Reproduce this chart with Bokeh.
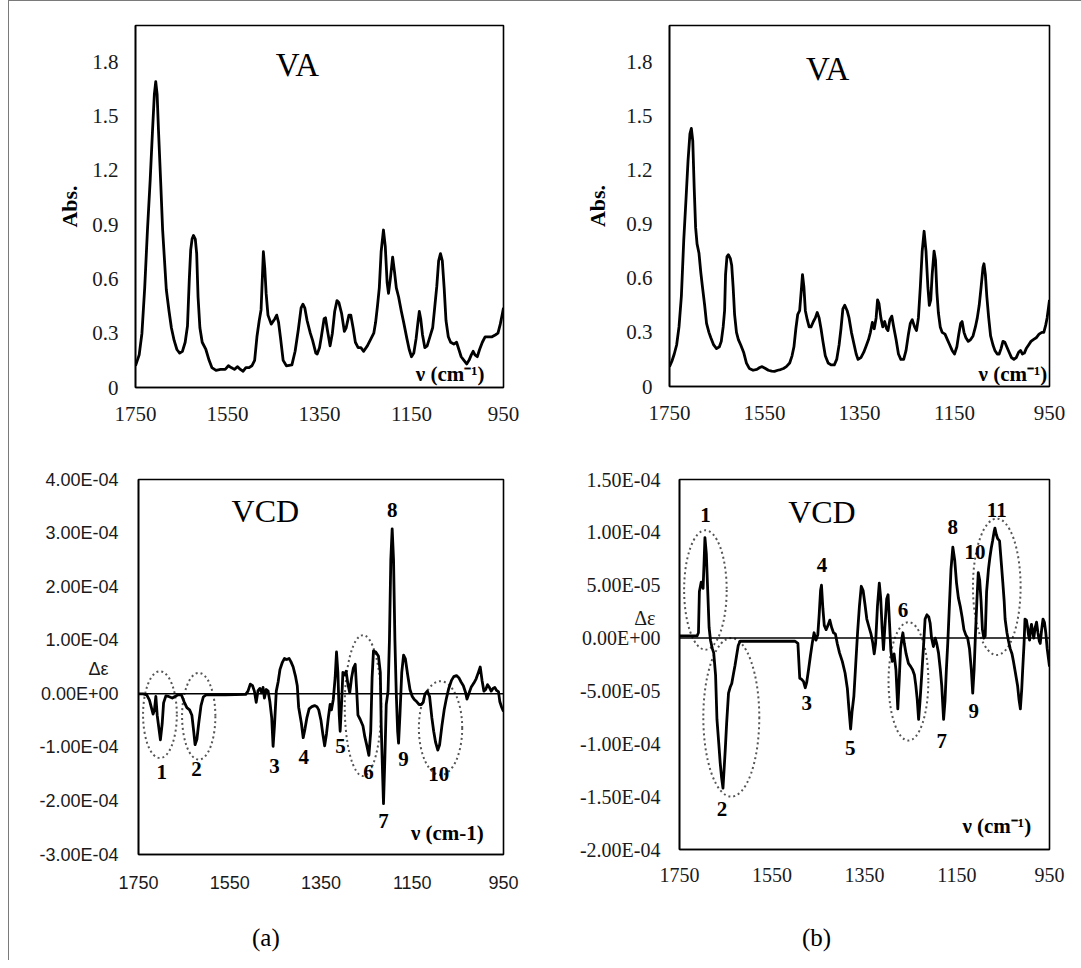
from bokeh.plotting import figure
from bokeh.models import Range1d, FixedTicker, CustomJSTickFormatter, Label, Span, Div
from bokeh.layouts import row, column
from bokeh.embed import file_html
from bokeh.resources import INLINE
from bokeh.core.properties import value

SERIF = "Liberation Serif"
SANS = "Liberation Sans"

# ---------------- data ----------------
x_ticks = [1750, 1550, 1350, 1150, 950]
va_ticks = [0, 0.3, 0.6, 0.9, 1.2, 1.5, 1.8]
vcd_a_ticks = [-3e-4, -2e-4, -1e-4, 0, 1e-4, 2e-4, 3e-4, 4e-4]
vcd_b_ticks = [-2e-4, -1.5e-4, -1e-4, -5e-5, 0, 5e-5, 1e-4, 1.5e-4]
vcd_a_ylabel_at = 0.47e-4   # where the "Δε" caption sits on the (a) axis
vcd_b_ylabel_at = 0.19e-4   # where the "Δε" caption sits on the (b) axis

# (a) VA spectrum
va_a_wn = [1750, 1742, 1736, 1730, 1724, 1718, 1713, 1709, 1706, 1703, 1700, 1695, 1691, 1683, 1677, 1672,
           1666, 1660, 1654, 1648, 1642, 1637, 1633, 1630, 1627, 1624, 1620, 1617, 1614, 1610, 1605, 1597,
           1590, 1584, 1575, 1565, 1555, 1548, 1542, 1535, 1528, 1522, 1516, 1510, 1503, 1497, 1491, 1486,
           1481, 1477, 1474, 1472, 1469, 1466, 1462, 1455, 1447, 1443, 1439, 1435, 1429, 1422, 1410, 1403,
           1396, 1390, 1386, 1382, 1377, 1370, 1365, 1358, 1355, 1350, 1346, 1340, 1337, 1333, 1327, 1322,
           1317, 1312, 1308, 1302, 1296, 1292, 1286, 1282, 1277, 1272, 1266, 1260, 1254, 1246, 1238, 1232,
           1228, 1224, 1220, 1216, 1211, 1207, 1203, 1200, 1196, 1191, 1187, 1183, 1178, 1172, 1167, 1160,
           1155, 1150, 1145, 1140, 1136, 1133, 1130, 1126, 1121, 1116, 1110, 1104, 1100, 1095, 1091, 1087,
           1083, 1079, 1075, 1070, 1065, 1058, 1052, 1047, 1042, 1036, 1030, 1025, 1020, 1016, 1012, 1007,
           1002, 996, 990, 982, 975, 968, 962, 957, 953, 950]
va_a_abs = [0.12, 0.18, 0.30, 0.55, 0.87, 1.15, 1.42, 1.62, 1.69, 1.62, 1.42, 1.12, 0.87, 0.54, 0.42, 0.33,
            0.26, 0.21, 0.19, 0.20, 0.25, 0.34, 0.60, 0.76, 0.82, 0.84, 0.82, 0.74, 0.50, 0.33, 0.25, 0.21,
            0.15, 0.11, 0.095, 0.10, 0.10, 0.12, 0.11, 0.10, 0.115, 0.10, 0.09, 0.11, 0.11, 0.12, 0.15, 0.28,
            0.37, 0.43, 0.62, 0.75, 0.66, 0.52, 0.40, 0.35, 0.38, 0.40, 0.36, 0.28, 0.15, 0.12, 0.125, 0.20,
            0.32, 0.44, 0.46, 0.44, 0.37, 0.30, 0.26, 0.19, 0.185, 0.22, 0.28, 0.38, 0.385, 0.32, 0.23, 0.30,
            0.42, 0.48, 0.47, 0.41, 0.31, 0.33, 0.40, 0.40, 0.33, 0.25, 0.22, 0.22, 0.20, 0.23, 0.27, 0.30,
            0.36, 0.45, 0.55, 0.75, 0.87, 0.78, 0.58, 0.52, 0.60, 0.72, 0.64, 0.55, 0.50, 0.42, 0.36, 0.27,
            0.21, 0.17, 0.19, 0.27, 0.36, 0.42, 0.38, 0.29, 0.22, 0.23, 0.28, 0.33, 0.43, 0.56, 0.70, 0.74,
            0.70, 0.55, 0.37, 0.28, 0.25, 0.24, 0.25, 0.21, 0.17, 0.15, 0.13, 0.15, 0.18, 0.20, 0.18, 0.17,
            0.21, 0.25, 0.28, 0.28, 0.28, 0.29, 0.30, 0.35, 0.40, 0.44]

# (b) VA spectrum
va_b_wn = [1750, 1745, 1740, 1735, 1730, 1725, 1720, 1715, 1711, 1707, 1704, 1701, 1698, 1695, 1692, 1688,
           1684, 1681, 1676, 1672, 1667, 1663, 1657, 1651, 1645, 1641, 1637, 1634, 1632, 1629, 1626, 1622,
           1619, 1616, 1613, 1609, 1605, 1600, 1594, 1588, 1582, 1574, 1566, 1560, 1555, 1548, 1542, 1535,
           1529, 1522, 1516, 1510, 1504, 1497, 1492, 1488, 1484, 1480, 1476, 1472, 1470, 1467, 1464, 1460,
           1456, 1452, 1447, 1443, 1439, 1435, 1431, 1427, 1422, 1416, 1410, 1403, 1398, 1393, 1389, 1385,
           1381, 1376, 1372, 1367, 1362, 1357, 1353, 1347, 1341, 1336, 1331, 1327, 1323, 1319, 1315, 1312,
           1309, 1305, 1301, 1297, 1293, 1290, 1286, 1282, 1278, 1273, 1268, 1263, 1257, 1252, 1247, 1243,
           1239, 1234, 1230, 1226, 1222, 1218, 1214, 1210, 1206, 1203, 1200, 1197, 1193, 1190, 1187, 1184,
           1180, 1176, 1170, 1165, 1160, 1155, 1150, 1145, 1141, 1137, 1134, 1130, 1126, 1121, 1116, 1111,
           1106, 1102, 1098, 1094, 1090, 1088, 1085, 1082, 1078, 1074, 1069, 1065, 1060, 1056, 1052, 1048,
           1044, 1040, 1035, 1030, 1025, 1020, 1015, 1011, 1007, 1003, 999, 994, 989, 984, 978, 972,
           966, 962, 958, 955, 952, 950]
va_b_abs = [0.11, 0.14, 0.18, 0.23, 0.33, 0.50, 0.81, 1.05, 1.25, 1.40, 1.43, 1.36, 1.10, 0.88, 0.79, 0.74,
            0.63, 0.56, 0.45, 0.35, 0.30, 0.27, 0.23, 0.21, 0.22, 0.25, 0.33, 0.42, 0.62, 0.72, 0.73, 0.71,
            0.67, 0.55, 0.40, 0.30, 0.26, 0.23, 0.19, 0.13, 0.10, 0.09, 0.095, 0.105, 0.11, 0.10, 0.09, 0.085,
            0.084, 0.09, 0.094, 0.10, 0.11, 0.13, 0.17, 0.22, 0.32, 0.40, 0.42, 0.55, 0.62, 0.55, 0.42, 0.37,
            0.33, 0.33, 0.36, 0.38, 0.41, 0.38, 0.32, 0.25, 0.17, 0.13, 0.12, 0.12, 0.15, 0.23, 0.32, 0.43,
            0.45, 0.42, 0.38, 0.30, 0.24, 0.18, 0.15, 0.16, 0.19, 0.225, 0.26, 0.30, 0.355, 0.32, 0.38, 0.48,
            0.46, 0.38, 0.33, 0.36, 0.32, 0.31, 0.37, 0.39, 0.33, 0.26, 0.18, 0.15, 0.15, 0.20, 0.29, 0.35,
            0.37, 0.33, 0.31, 0.38, 0.55, 0.75, 0.86, 0.75, 0.55, 0.45, 0.48, 0.62, 0.75, 0.70, 0.52, 0.41,
            0.33, 0.30, 0.29, 0.26, 0.23, 0.20, 0.18, 0.22, 0.29, 0.35, 0.36, 0.30, 0.27, 0.25, 0.26, 0.28,
            0.33, 0.38, 0.45, 0.55, 0.66, 0.68, 0.62, 0.50, 0.38, 0.28, 0.23, 0.20, 0.18, 0.18, 0.21, 0.25,
            0.245, 0.22, 0.19, 0.16, 0.15, 0.16, 0.19, 0.20, 0.18, 0.185, 0.21, 0.23, 0.25, 0.26, 0.27, 0.29,
            0.30, 0.30, 0.34, 0.38, 0.44, 0.48]

# (a) VCD spectrum
vcd_a_wn = [1750, 1740, 1732, 1726, 1722, 1718, 1715, 1712, 1709, 1706, 1702, 1698, 1695, 1690, 1684, 1676,
            1670, 1663, 1656, 1650, 1644, 1638, 1633, 1629, 1626, 1622, 1618, 1613, 1608, 1602, 1560, 1515,
            1510, 1505, 1500, 1496, 1492, 1488, 1484, 1480, 1477, 1474, 1470, 1466, 1462, 1458, 1455, 1452,
            1448, 1444, 1440, 1435, 1430, 1425, 1420, 1416, 1411, 1406, 1402, 1399, 1393, 1389, 1385, 1381,
            1376, 1370, 1364, 1359, 1355, 1350, 1346, 1342, 1338, 1334, 1330, 1327, 1323, 1319, 1316, 1313,
            1310, 1308, 1305, 1302, 1299, 1295, 1291, 1287, 1283, 1279, 1275, 1272, 1269, 1264, 1258, 1254,
            1250, 1245, 1241, 1238, 1235, 1230, 1224, 1220, 1218, 1215, 1213, 1210, 1207, 1203, 1200, 1197,
            1194, 1191, 1188, 1185, 1182, 1180, 1177, 1173, 1169, 1165, 1160, 1155, 1150, 1146, 1140, 1135,
            1130, 1126, 1122, 1117, 1112, 1107, 1103, 1099, 1094, 1090, 1085, 1080, 1075, 1070, 1064, 1059,
            1053, 1048, 1043, 1038, 1033, 1030, 1026, 1021, 1015, 1010, 1005, 1001, 997, 993, 989, 985,
            981, 977, 973, 969, 965, 961, 958, 954, 950]
vcd_a_de = [0.0, 0.0, -0.02e-4, -0.12e-4, -0.25e-4, -0.38e-4, -0.30e-4, -0.05e-4, -0.40e-4, -0.60e-4,
            -0.86e-4, -0.55e-4, -0.17e-4, -0.04e-4, -0.05e-4, -0.08e-4, -0.05e-4, -0.02e-4, -0.02e-4,
            -0.15e-4, -0.26e-4, -0.30e-4, -0.40e-4, -0.70e-4, -0.95e-4, -0.85e-4, -0.55e-4, -0.22e-4,
            -0.06e-4, -0.02e-4, -0.02e-4, -0.01e-4,
            0.05e-4, 0.18e-4, 0.15e-4, 0.05e-4, -0.16e-4, 0.06e-4, 0.10e-4, 0.02e-4, 0.12e-4, -0.08e-4,
            0.08e-4, 0.05e-4, -0.15e-4, -0.45e-4, -0.98e-4, -0.60e-4,
            0.05e-4, 0.22e-4, 0.45e-4, 0.58e-4, 0.66e-4, 0.64e-4, 0.66e-4, 0.60e-4, 0.50e-4, 0.33e-4,
            0.15e-4, -0.25e-4, -0.55e-4, -0.82e-4, -0.65e-4, -0.45e-4,
            -0.28e-4, -0.24e-4, -0.22e-4, -0.24e-4, -0.30e-4, -0.50e-4, -0.75e-4, -0.97e-4, -0.75e-4,
            -0.45e-4, -0.20e-4, -0.30e-4, -0.10e-4, 0.30e-4, 0.78e-4, 0.40e-4,
            -0.40e-4, -0.70e-4, -0.20e-4, 0.40e-4, 0.35e-4, 0.42e-4, 0.18e-4, 0.02e-4, 0.30e-4, 0.48e-4,
            0.55e-4, 0.10e-4, -0.40e-4, -0.48e-4, -0.60e-4, -0.80e-4,
            -0.95e-4, -1.15e-4, -0.70e-4, 0.30e-4, 0.80e-4, 0.78e-4, 0.70e-4, 0.40e-4, -0.60e-4, -1.50e-4,
            -2.05e-4, -1.20e-4, -0.20e-4, 0.05e-4, 1.00e-4, 2.50e-4,
            3.08e-4, 2.50e-4, 1.00e-4, 0.00, -0.70e-4, -0.92e-4, -0.40e-4, 0.40e-4, 0.72e-4, 0.65e-4,
            0.35e-4, 0.08e-4, -0.05e-4, -0.10e-4, -0.15e-4, -0.20e-4,
            -0.20e-4, -0.16e-4, 0.00, 0.05e-4, -0.05e-4, -0.45e-4, -0.70e-4, -0.90e-4, -1.05e-4, -0.95e-4,
            -0.60e-4, -0.30e-4, -0.08e-4, 0.10e-4, 0.25e-4, 0.32e-4,
            0.34e-4, 0.30e-4, 0.22e-4, 0.15e-4, 0.02e-4, -0.10e-4, 0.00, 0.12e-4, 0.20e-4, 0.28e-4,
            0.40e-4, 0.50e-4, 0.25e-4, 0.05e-4, 0.08e-4, 0.17e-4,
            0.12e-4, 0.05e-4, 0.10e-4, 0.12e-4, 0.06e-4, 0.04e-4, -0.15e-4, -0.25e-4, -0.33e-4]

# (b) VCD spectrum
vcd_b_wn = [1750, 1740, 1730, 1720, 1712, 1709, 1707, 1703, 1699, 1697, 1695, 1692, 1689, 1686, 1683, 1679,
            1676, 1672, 1669, 1665, 1662, 1659, 1656, 1653, 1651, 1648, 1644, 1640, 1637, 1633, 1630, 1626,
            1623, 1619, 1600, 1550, 1500, 1494, 1490, 1486, 1482, 1478, 1475, 1471, 1467, 1463, 1459, 1455,
            1451, 1448, 1445, 1443, 1440, 1437, 1433, 1429, 1425, 1421, 1417, 1413, 1409, 1404, 1398, 1392,
            1387, 1384, 1380, 1377, 1373, 1369, 1365, 1361, 1357, 1353, 1349, 1345, 1340, 1336, 1332, 1329,
            1326, 1322, 1318, 1315, 1312, 1309, 1306, 1302, 1299, 1296, 1293, 1290, 1286, 1282, 1278, 1275,
            1272, 1269, 1267, 1264, 1260, 1255, 1250, 1246, 1242, 1239, 1236, 1233, 1230, 1226, 1222, 1219,
            1215, 1211, 1208, 1205, 1201, 1197, 1194, 1190, 1186, 1183, 1179, 1176, 1173, 1170, 1167, 1163,
            1159, 1155, 1151, 1147, 1143, 1139, 1135, 1131, 1127, 1123, 1119, 1116, 1113, 1110, 1107, 1104,
            1101, 1098, 1095, 1092, 1089, 1086, 1082, 1079, 1076, 1073, 1070, 1068, 1065, 1062, 1058, 1054,
            1051, 1048, 1046, 1042, 1039, 1035, 1031, 1028, 1024, 1019, 1016, 1013, 1010, 1008, 1005, 1003,
            1000, 998, 995, 993, 991, 989, 986, 984, 981, 978, 975, 972, 970, 967, 964, 961,
            958, 955, 952, 950]
vcd_b_de = [0.02e-4, 0.02e-4, 0.02e-4, 0.02e-4, 0.02e-4, 0.05e-4, 0.44e-4, 0.53e-4, 0.47e-4, 0.70e-4,
            0.95e-4, 0.80e-4, 0.45e-4, 0.10e-4, -0.02e-4, -0.10e-4,
            -0.14e-4, -0.35e-4, -0.77e-4, -1.00e-4, -1.18e-4, -1.32e-4, -1.42e-4, -1.20e-4, -1.05e-4,
            -0.80e-4, -0.52e-4, -0.46e-4, -0.43e-4, -0.33e-4, -0.26e-4, -0.15e-4,
            -0.07e-4, -0.03e-4, -0.03e-4, -0.03e-4, -0.03e-4, -0.05e-4, -0.38e-4, -0.39e-4, -0.41e-4,
            -0.47e-4, -0.42e-4, -0.30e-4, -0.17e-4, -0.05e-4, 0.05e-4, -0.02e-4,
            0.03e-4, 0.22e-4, 0.45e-4, 0.50e-4, 0.28e-4, 0.12e-4, 0.08e-4, 0.12e-4, 0.17e-4, 0.10e-4,
            0.05e-4, 0.04e-4, -0.05e-4, -0.14e-4, -0.22e-4, -0.33e-4,
            -0.48e-4, -0.65e-4, -0.86e-4, -0.70e-4, -0.55e-4, -0.25e-4, 0.05e-4, 0.30e-4, 0.49e-4, 0.45e-4,
            0.32e-4, 0.18e-4, 0.10e-4, 0.04e-4, -0.05e-4, -0.15e-4,
            -0.05e-4, 0.30e-4, 0.52e-4, 0.38e-4, 0.10e-4, -0.11e-4, 0.10e-4, 0.37e-4, 0.41e-4, 0.15e-4,
            -0.12e-4, -0.22e-4, -0.15e-4, -0.30e-4, -0.67e-4, -0.40e-4,
            -0.10e-4, 0.00, 0.05e-4, -0.05e-4, -0.15e-4, -0.24e-4, -0.27e-4, -0.30e-4, -0.35e-4, -0.45e-4,
            -0.58e-4, -0.77e-4, -0.60e-4, -0.33e-4, -0.05e-4, 0.18e-4,
            0.22e-4, 0.20e-4, 0.14e-4, 0.00, -0.08e-4, 0.00, -0.05e-4, -0.14e-4, -0.30e-4, -0.45e-4,
            -0.77e-4, -0.60e-4, -0.30e-4, -0.05e-4, 0.25e-4, 0.65e-4,
            0.86e-4, 0.74e-4, 0.52e-4, 0.38e-4, 0.30e-4, 0.20e-4, 0.08e-4, 0.03e-4, 0.00, -0.10e-4,
            -0.30e-4, -0.52e-4, -0.30e-4, 0.05e-4, 0.35e-4, 0.62e-4,
            0.55e-4, 0.35e-4, 0.08e-4, 0.00, 0.02e-4, 0.44e-4, 0.65e-4, 0.76e-4, 0.85e-4, 0.92e-4,
            1.00e-4, 1.04e-4, 0.98e-4, 0.94e-4, 0.92e-4, 0.70e-4,
            0.53e-4, 0.35e-4, 0.18e-4, 0.05e-4, -0.02e-4, -0.10e-4, -0.15e-4, -0.22e-4, -0.32e-4, -0.45e-4,
            -0.58e-4, -0.67e-4, -0.48e-4, -0.30e-4, -0.05e-4, 0.18e-4,
            0.17e-4, 0.12e-4, 0.02e-4, -0.02e-4, 0.08e-4, 0.13e-4, 0.05e-4, 0.00, 0.10e-4, 0.15e-4,
            0.05e-4, -0.03e-4, -0.05e-4, 0.08e-4, 0.18e-4, 0.15e-4,
            0.05e-4, -0.10e-4, -0.20e-4, -0.27e-4]

# peak labels
peaks_a_text = ["1", "2", "3", "4", "5", "6", "7", "8", "9", "10"]
peaks_a_wn = [1699, 1623, 1452, 1388, 1307, 1246, 1213, 1194, 1169, 1092]
peaks_a_de = [-1.46e-4, -1.41e-4, -1.35e-4, -1.18e-4, -0.98e-4, -1.46e-4, -2.38e-4, 3.43e-4, -1.22e-4, -1.5e-4]

peaks_b_text = ["1", "2", "3", "4", "5", "6", "7", "8", "9", "10", "11"]
peaks_b_wn = [1694, 1658, 1475, 1442, 1381, 1267, 1183, 1159, 1114, 1111, 1064]
peaks_b_de = [1.16e-4, -1.62e-4, -0.61e-4, 0.69e-4, -1.04e-4, 0.27e-4, -0.97e-4, 1.05e-4, -0.69e-4, 0.81e-4, 1.21e-4]

# dotted ellipses (centre wn, centre value, width in cm-1, height)
ell_a_wn = [1703, 1618, 1258, 1088]
ell_a_de = [-0.39e-4, -0.42e-4, -0.22e-4, -0.64e-4]
ell_a_w = [74, 73, 80, 95]
ell_a_h = [1.62e-4, 1.62e-4, 2.63e-4, 1.75e-4]

ell_b_wn = [1694, 1638, 1255, 1064]
ell_b_de = [0.455e-4, -0.75e-4, -0.41e-4, 0.485e-4]
ell_b_w = [92, 121, 86, 103]
ell_b_h = [1.13e-4, 1.5e-4, 1.12e-4, 1.29e-4]

# ---------------- helpers ----------------
VA_FMT = "return tick == 0 ? '0' : tick.toFixed(1);"
SCI_FMT = """
if (Math.abs(tick - special) < 1e-10) { return caption; }
if (Math.abs(tick) < 1e-12) { return '0.00E+00'; }
var e = Math.floor(Math.log10(Math.abs(tick)) + 1e-9);
var m = tick / Math.pow(10, e);
var es = String(Math.abs(e)); if (es.length < 2) { es = '0' + es; }
return m.toFixed(2) + 'E' + (e < 0 ? '-' : '+') + es;
"""


def make_fig(fw, fh, left, right, top, bottom, yr, yticks, yfmt, tick_font):
    p = figure(output_backend="svg", toolbar_location=None,
               frame_width=fw, frame_height=fh,
               min_border_left=left, min_border_right=right,
               min_border_top=top, min_border_bottom=bottom,
               x_range=Range1d(1750, 950), y_range=Range1d(yr[0], yr[1]))
    p.grid.visible = False
    p.outline_line_color = "black"
    p.outline_line_width = 1.6
    p.background_fill_color = "white"
    p.border_fill_color = "white"
    for ax in (p.xaxis[0], p.yaxis[0]):
        ax.major_tick_line_color = None
        ax.minor_tick_line_color = None
        ax.major_tick_out = 0
        ax.major_tick_in = 0
        ax.axis_line_color = "black"
        ax.axis_line_width = 1.6
        ax.major_label_text_font = tick_font
        ax.major_label_text_color = "#1a1a1a"
    p.xaxis.ticker = FixedTicker(ticks=x_ticks)
    p.yaxis.ticker = FixedTicker(ticks=yticks)
    p.yaxis.formatter = yfmt
    return p


def add_label(p, x, y, text, font=SERIF, size="21px", style="bold", align="center"):
    p.add_layout(Label(x=x, y=y, text=text, text_font=font, text_font_size=size,
                       text_font_style=style, text_align=align, text_baseline="middle",
                       text_color="black"))


def style_abs_label(p, standoff):
    p.yaxis.axis_label = "Abs."
    p.yaxis.axis_label_text_font = SERIF
    p.yaxis.axis_label_text_font_style = "bold"
    p.yaxis.axis_label_text_font_size = "22px"
    p.yaxis.axis_label_text_color = "black"
    p.yaxis.axis_label_standoff = standoff


# ---------------- (a) VA ----------------
tl = make_fig(368, 362, 126, 46, 20, 49, (0, 2.0), va_ticks,
              CustomJSTickFormatter(code=VA_FMT), SERIF)
tl.xaxis.major_label_text_font_size = "21px"
tl.yaxis.major_label_text_font_size = "21px"
tl.xaxis.major_label_standoff = 19
tl.yaxis.major_label_standoff = 17
style_abs_label(tl, 7)
tl.line(va_a_wn, va_a_abs, line_color="black", line_width=2.8, line_join="round")
add_label(tl, 1398, 1.78, "VA", size="33px", style="normal")
add_label(tl, 1066, 0.075, "ν (cm⁻¹)", size="21px")

# ---------------- (b) VA ----------------
tr = make_fig(380, 361, 120, 24, 24, 46, (0, 2.0), va_ticks,
              CustomJSTickFormatter(code=VA_FMT), SERIF)
tr.xaxis.major_label_text_font_size = "21px"
tr.yaxis.major_label_text_font_size = "21px"
tr.xaxis.major_label_standoff = 19
tr.yaxis.major_label_standoff = 17
style_abs_label(tr, 13)
tr.line(va_b_wn, va_b_abs, line_color="black", line_width=2.8, line_join="round")
add_label(tr, 1417, 1.76, "VA", size="33px", style="normal")
add_label(tr, 1027, 0.07, "ν (cm⁻¹)", size="21px")

# ---------------- (a) VCD ----------------
bl = make_fig(365, 375, 129, 46, 40, 73, (-3e-4, 4e-4), vcd_a_ticks + [vcd_a_ylabel_at],
              CustomJSTickFormatter(code=SCI_FMT, args=dict(special=vcd_a_ylabel_at,
                                                            caption="Δε\u00a0\u00a0")), SANS)
bl.xaxis.major_label_text_font_size = "18px"
bl.yaxis.major_label_text_font_size = "18px"
bl.xaxis.major_label_standoff = 21
bl.yaxis.major_label_standoff = 20
bl.add_layout(Span(location=0, dimension="width", line_color="black", line_width=1.6))
bl.ellipse(x=ell_a_wn, y=ell_a_de, width=ell_a_w, height=ell_a_h, fill_color=None,
           line_color="#555555", line_width=2, line_dash="2 3")
bl.line(vcd_a_wn, vcd_a_de, line_color="black", line_width=2.8, line_join="round")
bl.text(x=peaks_a_wn, y=peaks_a_de, text=peaks_a_text, text_font=value(SERIF),
        text_font_style="bold", text_font_size="21px", text_align="center",
        text_baseline="middle", text_color="black")
add_label(bl, 1472, 3.41e-4, "VCD", size="32px", style="normal")
add_label(bl, 1073, -2.6e-4, "ν (cm-1)", size="21px")

# ---------------- (b) VCD ----------------
br = make_fig(370, 370, 130, 24, 47, 71, (-2e-4, 1.5e-4), vcd_b_ticks + [vcd_b_ylabel_at],
              CustomJSTickFormatter(code=SCI_FMT, args=dict(special=vcd_b_ylabel_at,
                                                            caption="Δε\u00a0")), SERIF)
br.xaxis.major_label_text_font_size = "20px"
br.yaxis.major_label_text_font_size = "20px"
br.xaxis.major_label_standoff = 18
br.yaxis.major_label_standoff = 19
br.add_layout(Span(location=0, dimension="width", line_color="black", line_width=1.6))
br.ellipse(x=ell_b_wn, y=ell_b_de, width=ell_b_w, height=ell_b_h, fill_color=None,
           line_color="#555555", line_width=2, line_dash="2 3")
br.line(vcd_b_wn, vcd_b_de, line_color="black", line_width=2.8, line_join="round")
br.text(x=peaks_b_wn, y=peaks_b_de, text=peaks_b_text, text_font=value(SERIF),
        text_font_style="bold", text_font_size="21px", text_align="center",
        text_baseline="middle", text_color="black")
add_label(br, 1442, 1.19e-4, "VCD", size="32px", style="normal")
add_label(br, 1064, -1.78e-4, "ν (cm⁻¹)", size="21px")

# ---------------- captions and outer frame ----------------
CAP = '<span style="font-family: \'Liberation Serif\'; font-size: 25px; color: black;">%s</span>'
cap_a = Div(text=CAP % "(a)", width=40, height=40, margin=(0, 0, 0, 243))
cap_b = Div(text=CAP % "(b)", width=40, height=40, margin=(0, 0, 0, 510))

content = column(row(tl, tr), row(bl, br), row(cap_a, cap_b))
top_line = Div(text="", width=1073, height=1, margin=0, styles={"background-color": "#7a7a7a"})
left_line = Div(text="", width=1, height=959, margin=0, styles={"background-color": "#7a7a7a"})
layout = column(top_line, row(left_line, content), margin=(0, 0, 0, 8))

open("out.html", "w").write(file_html(layout, INLINE))
